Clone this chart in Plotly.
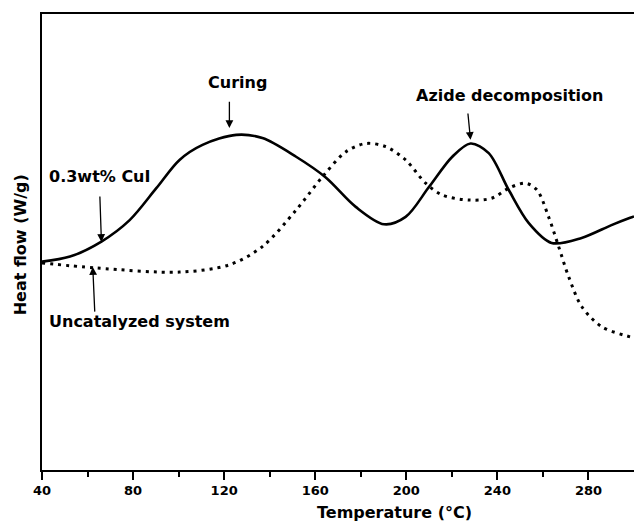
import plotly.graph_objects as go

# 0.3 wt% CuI (solid)
cat_T = [40, 52.3, 66.1, 78.5, 90.2, 100.4, 110.5, 125.3, 136.8, 151.6, 164.5,
         177.8, 190.2, 199.7, 210, 220.2, 228.2, 236.2, 245, 253.7, 263.8, 277, 290.1, 298.3, 300]
cat_H = [45.7, 46.8, 50.1, 54.8, 61.8, 68.0, 71.3, 73.5, 72.8, 68.7, 64.2,
         57.7, 53.9, 55.5, 62.1, 68.7, 71.6, 69.5, 61.4, 54.2, 49.8, 50.9, 53.7, 55.3, 55.6]

# Uncatalyzed system (dotted)
unc_T = [40, 64, 100.4, 122.3, 136.8, 151.6, 163.5, 173.5, 182.2, 191, 199.7,
         208.5, 215.8, 227.5, 237.5, 245, 252.3, 257.4, 262.5, 266.9, 271.3, 277.1, 285.9, 298.3, 300]
unc_H = [45.4, 44.3, 43.4, 45.0, 49.0, 57.0, 64.5, 69.8, 71.6, 70.9, 68.0,
         62.9, 60.3, 59.2, 59.6, 61.8, 62.9, 61.4, 55.5, 49.0, 42.4, 35.8, 31.4, 29.2, 29.0]

x_ticks = [40, 80, 120, 160, 200, 240, 280]

FONT = "DejaVu Sans"

fig = go.Figure()
fig.add_trace(go.Scatter(x=cat_T, y=cat_H, mode="lines", name="0.3wt% CuI",
                         line=dict(color="black", width=2.6, shape="spline", smoothing=0.9)))
fig.add_trace(go.Scatter(x=unc_T, y=unc_H, mode="lines", name="Uncatalyzed system",
                         line=dict(color="black", width=3, dash="3px,5px", shape="spline", smoothing=0.9)))

labels = [
    ("Curing", 125.8, 84.9),
    ("0.3wt% CuI", 65.2, 64.3),
    ("Uncatalyzed system", 82.9, 32.5),
    ("Azide decomposition", 245.4, 82.2),
]
for txt, x, y in labels:
    fig.add_annotation(x=x, y=y, text="<b>%s</b>" % txt, showarrow=False,
                       font=dict(family=FONT, size=16, color="black"),
                       xanchor="center", yanchor="middle")

arrows = [  # head (x, y), tail (ax, ay)
    (122.3, 75.0, 122.3, 81.1),
    (66.1, 50.0, 65.4, 60.3),
    (62.3, 44.5, 63.2, 34.4),
    (228.2, 72.4, 227.0, 78.5),
]
for x, y, ax, ay in arrows:
    fig.add_annotation(x=x, y=y, ax=ax, ay=ay, xref="x", yref="y", axref="x", ayref="y",
                       text="", showarrow=True, arrowhead=2, arrowsize=1.2,
                       arrowwidth=1.3, arrowcolor="black")

fig.add_annotation(xref="paper", yref="paper", x=0.595, y=-0.094, text="<b>Temperature (°C)</b>",
                   showarrow=False, font=dict(family=FONT, size=16, color="black"),
                   xanchor="center", yanchor="middle")
fig.add_annotation(xref="paper", yref="paper", x=-0.037, y=0.493, text="<b>Heat flow (W/g)</b>",
                   showarrow=False, textangle=-90, font=dict(family=FONT, size=16, color="black"),
                   xanchor="center", yanchor="middle")

fig.update_layout(
    width=634, height=522,
    margin=dict(l=42, r=0, t=14, b=52),
    paper_bgcolor="white", plot_bgcolor="white",
    showlegend=False,
    font=dict(family=FONT, color="black"),
)
fig.update_xaxes(range=[40, 300], tickmode="array", tickvals=x_ticks,
                 ticktext=["<b>%d</b>" % v for v in x_ticks],
                 ticks="outside", ticklen=8, tickwidth=1.5, tickcolor="black",
                 showline=True, linecolor="black", linewidth=1.5, mirror=True,
                 showgrid=False, zeroline=False,
                 tickfont=dict(family=FONT, size=13, color="black"),
                 minor=dict(tickvals=[60, 100, 140, 180, 220, 260], ticks="outside",
                            ticklen=5, tickwidth=1.5, tickcolor="black", showgrid=False))
fig.update_yaxes(range=[0, 100], showticklabels=False, ticks="",
                 showline=True, linecolor="black", linewidth=1.5, mirror=False,
                 showgrid=False, zeroline=False)

fig.write_html("out.html", config={"displayModeBar": False},
               post_script="document.body.style.margin='0';document.body.style.padding='0';"
                           "document.body.style.overflow='hidden';"
                           "document.documentElement.style.overflow='hidden';")
